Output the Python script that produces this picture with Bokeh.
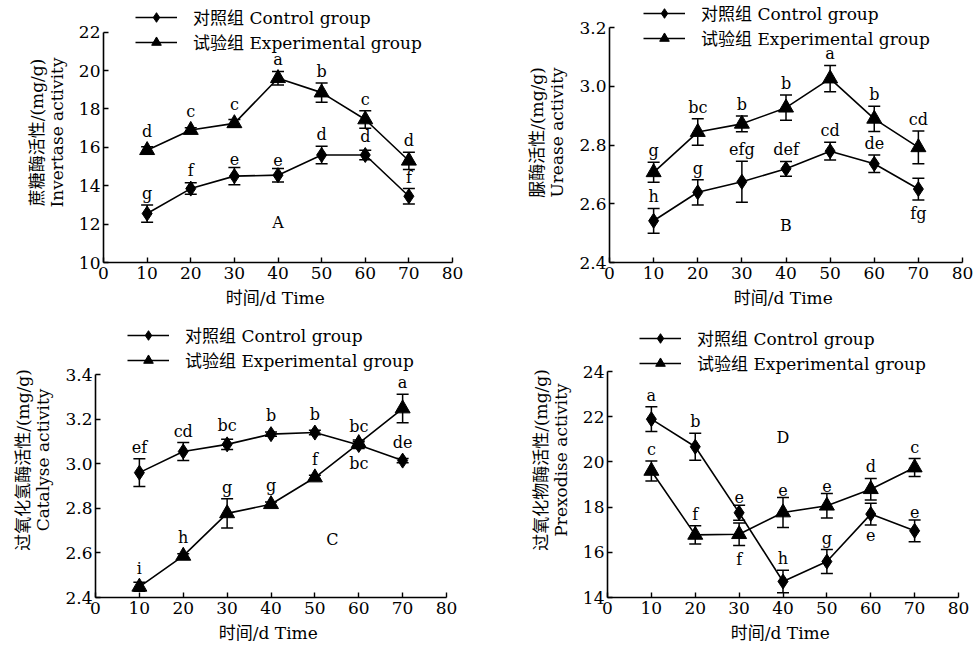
from bokeh.plotting import figure
from bokeh.models import (ColumnDataSource, Range1d, FixedTicker, Whisker, TeeHead,
                          Legend, LegendItem, Label, NumeralTickFormatter)
from bokeh.layouts import column, row
from bokeh.embed import file_html
from bokeh.resources import INLINE
from bokeh.core.properties import value

FONT = "DejaVu Serif, Noto Sans CJK SC"
FONT_V = value(FONT)

days = [10, 20, 30, 40, 50, 60, 70]
x_ticks = [0, 10, 20, 30, 40, 50, 60, 70, 80]
ctrl_name = "对照组 Control group"
exp_name = "试验组 Experimental group"
x_title = "时间/d  Time"

# Panel A - invertase
a_title = "蔗糖酶活性/(mg/g)\nInvertase activity"
a_ticks = [10, 12, 14, 16, 18, 20, 22]
a_ctrl = [12.55, 13.85, 14.5, 14.55, 15.6, 15.6, 13.45]
a_ctrl_err = [0.45, 0.3, 0.45, 0.35, 0.45, 0.25, 0.4]
a_ctrl_sig = ["g", "f", "e", "e", "d", "d", "f"]
a_ctrl_pos = ["up", "up", "up", "up", "up", "up", "up"]
a_exp = [15.85, 16.9, 17.25, 19.6, 18.85, 17.45, 15.3]
a_exp_err = [0.18, 0.12, 0.2, 0.35, 0.5, 0.45, 0.45]
a_exp_sig = ["d", "c", "c", "a", "b", "c", "d"]
a_exp_pos = ["up", "up", "up", "up", "up", "up", "up"]

# Panel B - urease
b_title = "脲酶活性/(mg/g)\nUrease activity"
b_ticks = [2.4, 2.6, 2.8, 3.0, 3.2]
b_ctrl = [2.542, 2.639, 2.675, 2.719, 2.779, 2.736, 2.65]
b_ctrl_err = [0.042, 0.043, 0.07, 0.025, 0.03, 0.03, 0.037]
b_ctrl_sig = ["h", "g", "efg", "def", "cd", "de", "fg"]
b_ctrl_pos = ["up", "up", "up", "up", "up", "up", "down"]
b_exp = [2.707, 2.844, 2.872, 2.927, 3.026, 2.889, 2.792]
b_exp_err = [0.034, 0.045, 0.027, 0.043, 0.045, 0.043, 0.056]
b_exp_sig = ["g", "bc", "b", "b", "a", "b", "cd"]
b_exp_pos = ["up", "up", "up", "up", "up", "up", "up"]

# Panel C - catalase
c_title = "过氧化氢酶活性/(mg/g)\nCatalyse activity"
c_ticks = [2.4, 2.6, 2.8, 3.0, 3.2, 3.4]
c_ctrl = [2.961, 3.056, 3.088, 3.134, 3.141, 3.085, 3.015]
c_ctrl_err = [0.062, 0.04, 0.023, 0.01, 0.01, 0.015, 0.01]
c_ctrl_sig = ["ef", "cd", "bc", "b", "b", "bc", "de"]
c_ctrl_pos = ["up", "up", "up", "up", "up", "up", "up"]
c_exp = [2.448, 2.587, 2.778, 2.819, 2.939, 3.093, 3.249]
c_exp_err = [0.02, 0.01, 0.066, 0.01, 0.01, 0.015, 0.064]
c_exp_sig = ["i", "h", "g", "g", "f", "bc", "a"]
c_exp_pos = ["up", "up", "up", "up", "up", "down", "up"]

# Panel D - peroxidase
d_title = "过氧化物酶活性/(mg/g)\nPrexodise activity"
d_ticks = [14, 16, 18, 20, 22, 24]
d_ctrl = [21.89, 20.67, 17.75, 14.71, 15.59, 17.69, 16.95]
d_ctrl_err = [0.55, 0.6, 0.33, 0.5, 0.53, 0.48, 0.48]
d_ctrl_sig = ["a", "b", "e", "h", "g", "e", "e"]
d_ctrl_pos = ["up", "up", "up", "up", "up", "down", "up"]
d_exp = [19.6, 16.77, 16.8, 17.76, 18.06, 18.79, 19.75]
d_exp_err = [0.44, 0.4, 0.5, 0.66, 0.54, 0.48, 0.4]
d_exp_sig = ["c", "f", "f", "e", "e", "d", "c"]
d_exp_pos = ["up", "up", "down", "up", "up", "up", "up"]


def series(p, ys, errs, sigs, pos, marker, msize, px_per_unit):
    mk = 7.0 / px_per_unit
    up_x, up_y, up_t, dn_x, dn_y, dn_t = [], [], [], [], [], []
    for x, y, e, s, d in zip(days, ys, errs, sigs, pos):
        if d == "up":
            up_x.append(x); up_y.append(y + max(e, mk)); up_t.append(s)
        else:
            dn_x.append(x); dn_y.append(y - max(e, mk)); dn_t.append(s)
    src = ColumnDataSource(dict(x=days, y=ys,
                                upper=[y + e for y, e in zip(ys, errs)],
                                lower=[y - e for y, e in zip(ys, errs)]))
    ln = p.line("x", "y", source=src, line_color="black", line_width=1.6)
    w = Whisker(base="x", upper="upper", lower="lower", source=src,
                line_color="black", line_width=1.5, level="glyph",
                upper_head=TeeHead(size=12, line_width=1.5, line_color="black"),
                lower_head=TeeHead(size=12, line_width=1.5, line_color="black"))
    p.add_layout(w)
    sc = p.scatter("x", "y", source=src, marker=marker, size=msize,
                   fill_color="black", line_color="black")
    if up_t:
        p.text(x=up_x, y=up_y, text=up_t,
               text_font=FONT_V, text_font_size="16px", text_color="black",
               text_align="center", text_baseline="bottom", y_offset=-2)
    if dn_t:
        p.text(x=dn_x, y=dn_y, text=dn_t,
               text_font=FONT_V, text_font_size="16px", text_color="black",
               text_align="center", text_baseline="top", y_offset=4)
    return ln, sc


def panel(width, height, mbl, mbr, mbt, mbb, yticks, ytitle,
          ctrl, ctrl_err, ctrl_sig, ctrl_pos, exp, exp_err, exp_sig, exp_pos,
          letter, lx, ly, leg_x, leg_y, fmt=None):
    fh = height - mbt - mbb
    ppu = fh / (yticks[-1] - yticks[0])
    top_pad = 2
    y_end = yticks[-1] + (mbt - top_pad) / ppu
    p = figure(width=width, height=height, output_backend="svg", toolbar_location=None,
               x_range=Range1d(0, 80), y_range=Range1d(yticks[0], y_end),
               min_border_left=mbl, min_border_right=mbr,
               min_border_top=top_pad, min_border_bottom=mbb)
    p.outline_line_color = None
    p.xgrid.grid_line_color = None
    p.ygrid.grid_line_color = None
    p.background_fill_color = "white"
    p.border_fill_color = "white"
    p.xaxis.ticker = FixedTicker(ticks=x_ticks)
    p.yaxis.ticker = FixedTicker(ticks=yticks)
    p.yaxis.bounds = (yticks[0], yticks[-1])
    for ax in (p.xaxis[0], p.yaxis[0]):
        ax.axis_line_color = "black"
        ax.axis_line_width = 1.6
        ax.major_tick_line_color = "black"
        ax.major_tick_line_width = 1.4
        ax.major_tick_in = 5
        ax.major_tick_out = 0
        ax.minor_tick_line_color = None
        ax.major_label_text_font = FONT
        ax.major_label_text_font_size = "17px"
        ax.major_label_text_color = "black"
        ax.axis_label_text_font = FONT
        ax.axis_label_text_font_size = "17px"
        ax.axis_label_text_font_style = "normal"
        ax.axis_label_text_color = "black"
    p.xaxis.axis_label = x_title
    p.xaxis.major_label_standoff = 4
    p.xaxis.axis_label_standoff = 6
    p.yaxis.axis_label = ytitle
    p.yaxis.axis_label_text_line_height = 1.0
    p.yaxis.major_label_standoff = 3
    p.yaxis.axis_label_standoff = 9
    if fmt:
        p.yaxis.formatter = NumeralTickFormatter(format=fmt)

    l1, s1 = series(p, ctrl, ctrl_err, ctrl_sig, ctrl_pos, "diamond", 15, ppu)
    l2, s2 = series(p, exp, exp_err, exp_sig, exp_pos, "triangle", 15, ppu)

    p.add_layout(Label(x=lx, y=ly, text=letter, text_font=FONT, text_font_size="16px",
                       text_color="black", text_align="center", text_baseline="middle"))

    leg = Legend(items=[LegendItem(label=ctrl_name, renderers=[l1, s1]),
                        LegendItem(label=exp_name, renderers=[l2, s2])],
                 location=(leg_x, leg_y),
                 glyph_width=42, glyph_height=24, label_height=24, spacing=0,
                 label_standoff=16, padding=0, margin=0,
                 label_text_font=FONT, label_text_font_size="17px",
                 label_text_color="black",
                 background_fill_alpha=0, border_line_alpha=0)
    p.add_layout(leg, "center")
    return p


pa = panel(490, 320, 103, 38, 32, 55, a_ticks, a_title,
           a_ctrl, a_ctrl_err, a_ctrl_sig, a_ctrl_pos, a_exp, a_exp_err, a_exp_sig, a_exp_pos,
           "A", 40, 12.1, 32, 208)
pb = panel(483, 320, 119, 11, 27, 58, b_ticks, b_title,
           b_ctrl, b_ctrl_err, b_ctrl_sig, b_ctrl_pos, b_exp, b_exp_err, b_exp_sig, b_exp_pos,
           "B", 40, 2.525, 34, 212, "0.0")
pc = panel(490, 333, 95, 44, 55, 53, c_ticks, c_title,
           c_ctrl, c_ctrl_err, c_ctrl_sig, c_ctrl_pos, c_exp, c_exp_err, c_exp_sig, c_exp_pos,
           "C", 54, 2.66, 32, 225, "0.0")
pd = panel(483, 333, 117, 15, 51, 56, d_ticks, d_title,
           d_ctrl, d_ctrl_err, d_ctrl_sig, d_ctrl_pos, d_exp, d_exp_err, d_exp_sig, d_exp_pos,
           "D", 40, 21.08, 32, 222)

layout = column(row(pa, pb), row(pc, pd))
open("out.html", "w").write(file_html(layout, INLINE))
